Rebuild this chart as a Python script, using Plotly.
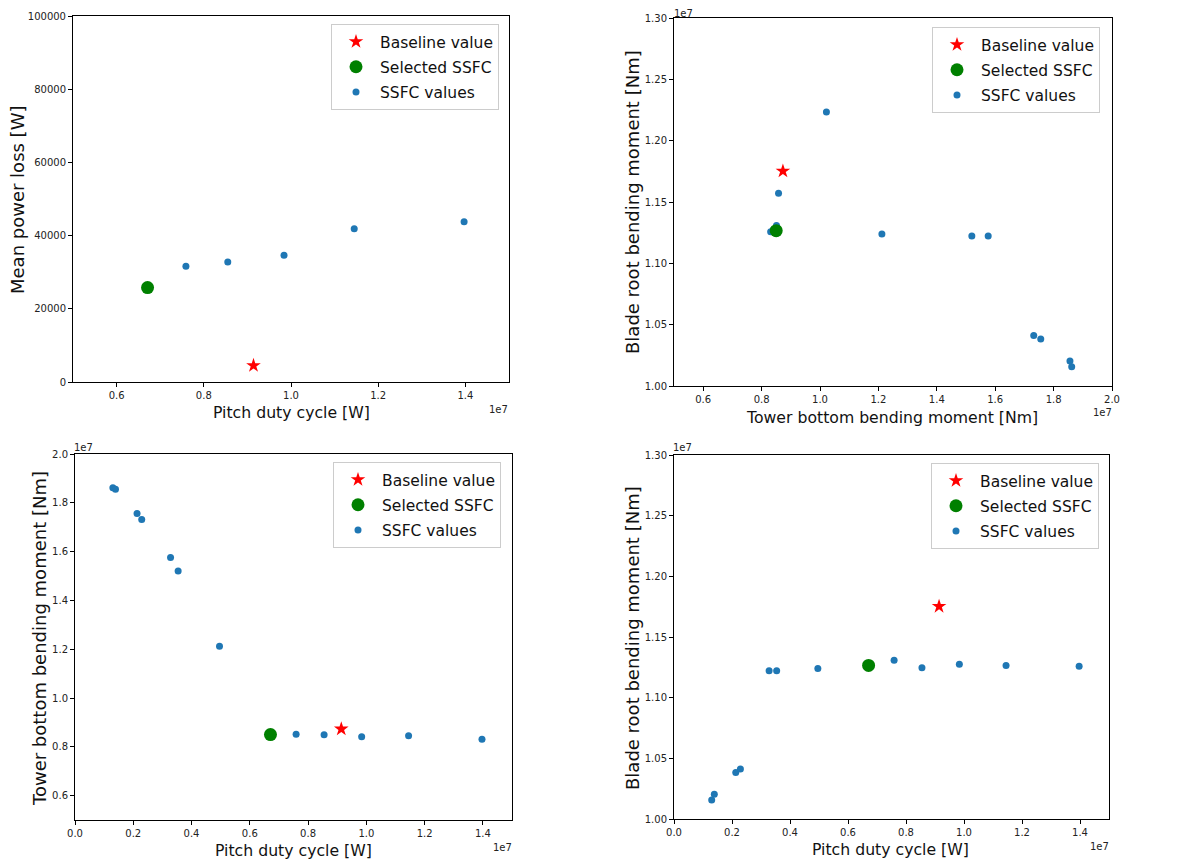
import plotly.graph_objects as go

# ---------------- data ----------------
# SSFC candidate values (None = outside every plotted range for that quantity)
ssfc_pitch = [1.30e6, 1.39e6, 2.13e6, 2.29e6, 3.28e6, 3.54e6, 4.96e6,
              7.59e6, 8.55e6, 9.84e6, 11.45e6, 13.97e6, None, None]
ssfc_power = [None, None, None, None, None, None, None,
              31600, 32800, 34600, 41900, 43800, None, None]
ssfc_tower = [18.62e6, 18.56e6, 17.56e6, 17.32e6, 15.76e6, 15.20e6, 12.12e6,
              8.51e6, 8.49e6, 8.41e6, 8.45e6, 8.31e6, 10.22e6, 8.58e6]
ssfc_blade = [10.156e6, 10.204e6, 10.384e6, 10.412e6, 11.222e6, 11.222e6, 11.240e6,
              11.308e6, 11.247e6, 11.275e6, 11.266e6, 11.258e6, 12.233e6, 11.572e6]

selected_pitch = [6.71e6]
selected_power = [25800]
selected_tower = [8.50e6]
selected_blade = [11.266e6]

baseline_pitch = [9.14e6]
baseline_power = [4500]
baseline_tower = [8.73e6]
baseline_blade = [11.752e6]

legend_labels = ["Baseline value", "Selected SSFC", "SSFC values"]

# tick labels (in units of 1e7 where an offset is shown)
ticks_pitch_top = [0.6, 0.8, 1.0, 1.2, 1.4]
ticks_power = [0, 20000, 40000, 60000, 80000, 100000]
ticks_tower_x = [0.6, 0.8, 1.0, 1.2, 1.4, 1.6, 1.8, 2.0]
ticks_blade = [1.00, 1.05, 1.10, 1.15, 1.20, 1.25, 1.30]
ticks_pitch_bottom = [0.0, 0.2, 0.4, 0.6, 0.8, 1.0, 1.2, 1.4]
ticks_tower_y = [0.6, 0.8, 1.0, 1.2, 1.4, 1.6, 1.8, 2.0]

FONT = "DejaVu Sans"
PAGE_OFFSET = 8           # default body margin of the html page
W, H = 1199 - PAGE_OFFSET, 860 - PAGE_OFFSET

fig = go.Figure()

panels = [
    ("x", "y", "legend", (ssfc_pitch, ssfc_power), (selected_pitch, selected_power), (baseline_pitch, baseline_power)),
    ("x2", "y2", "legend2", (ssfc_tower, ssfc_blade), (selected_tower, selected_blade), (baseline_tower, baseline_blade)),
    ("x3", "y3", "legend3", (ssfc_pitch, ssfc_tower), (selected_pitch, selected_tower), (baseline_pitch, baseline_tower)),
    ("x4", "y4", "legend4", (ssfc_pitch, ssfc_blade), (selected_pitch, selected_blade), (baseline_pitch, baseline_blade)),
]

for xa, ya, lg, ssfc, sel, base in panels:
    fig.add_trace(go.Scatter(x=ssfc[0], y=ssfc[1], mode="markers", name=legend_labels[2],
                             xaxis=xa, yaxis=ya, legend=lg, legendrank=3, legendgroup=lg + "c",
                             marker=dict(color="#1f77b4", size=7)))
    fig.add_trace(go.Scatter(x=sel[0], y=sel[1], mode="markers", name=legend_labels[1],
                             xaxis=xa, yaxis=ya, legend=lg, legendrank=2, legendgroup=lg + "b",
                             marker=dict(color="green", size=13)))
    fig.add_trace(go.Scatter(x=base[0], y=base[1], mode="markers", name=legend_labels[0],
                             xaxis=xa, yaxis=ya, legend=lg, legendrank=1, legendgroup=lg + "a",
                             marker=dict(color="red", size=11, symbol="star")))


def px_x(p):
    return (p - PAGE_OFFSET) / W


def px_y(p):
    return 1 - (p - PAGE_OFFSET) / H


axis_common = dict(showline=True, linecolor="black", linewidth=1, mirror=True,
                   ticks="outside", ticklen=4, tickwidth=1, tickcolor="black",
                   showgrid=False, zeroline=False, automargin=False,
                   tickfont=dict(family=FONT, size=10, color="#222"))


def scaled(ticks, fmt):
    return dict(tickmode="array", tickvals=[t * 1e7 for t in ticks],
                ticktext=[fmt.format(t) for t in ticks])


fig.update_layout(
    width=W, height=H, margin=dict(l=0, r=0, t=0, b=0, autoexpand=False),
    paper_bgcolor="white", plot_bgcolor="white",
    showlegend=True,
    xaxis=dict(domain=[px_x(73), px_x(509)], range=[0.5e7, 1.5e7], anchor="y",
               **scaled(ticks_pitch_top, "{:.1f}"), **axis_common),
    yaxis=dict(domain=[px_y(382), px_y(16)], range=[0, 100000], anchor="x",
               tickmode="array", tickvals=ticks_power, ticktext=[str(t) for t in ticks_power],
               **axis_common),
    xaxis2=dict(domain=[px_x(674), px_x(1112)], range=[0.5e7, 2.0e7], anchor="y2",
                **scaled(ticks_tower_x, "{:.1f}"), **axis_common),
    yaxis2=dict(domain=[px_y(386), px_y(18)], range=[1.0e7, 1.3e7], anchor="x2",
                **scaled(ticks_blade, "{:.2f}"), **axis_common),
    xaxis3=dict(domain=[px_x(75), px_x(512)], range=[0, 1.5e7], anchor="y3",
                **scaled(ticks_pitch_bottom, "{:.1f}"), **axis_common),
    yaxis3=dict(domain=[px_y(820), px_y(454)], range=[0.5e7, 2.0e7], anchor="x3",
                **scaled(ticks_tower_y, "{:.1f}"), **axis_common),
    xaxis4=dict(domain=[px_x(674), px_x(1109)], range=[0, 1.5e7], anchor="y4",
                **scaled(ticks_pitch_bottom, "{:.1f}"), **axis_common),
    yaxis4=dict(domain=[px_y(819), px_y(455)], range=[1.0e7, 1.3e7], anchor="x4",
                **scaled(ticks_blade, "{:.2f}"), **axis_common),
)

legend_style = dict(bgcolor="white", bordercolor="#cccccc", borderwidth=1,
                    font=dict(family=FONT, size=15.5, color="#111"),
                    xanchor="left", yanchor="top", traceorder="grouped",
                    tracegroupgap=2, itemsizing="trace", itemwidth=38)
fig.update_layout(
    legend=dict(x=px_x(331), y=px_y(24), **legend_style),
    legend2=dict(x=px_x(932), y=px_y(27), **legend_style),
    legend3=dict(x=px_x(333), y=px_y(462), **legend_style),
    legend4=dict(x=px_x(931), y=px_y(463), **legend_style),
)

annotations = []
xtitles = [("Pitch duty cycle [W]", 291, 413),
           ("Tower bottom bending moment [Nm]", 892, 417),
           ("Pitch duty cycle [W]", 293, 850),
           ("Pitch duty cycle [W]", 890, 849)]
for t, cx, cy in xtitles:
    annotations.append(dict(text=t, x=px_x(cx), y=px_y(cy), xref="paper", yref="paper",
                            showarrow=False, xanchor="center", yanchor="middle",
                            font=dict(family=FONT, size=15.7, color="#111")))
ytitles = [("Mean power loss [W]", 17, 200),
           ("Blade root bending moment [Nm]", 632, 202),
           ("Tower bottom bending moment [Nm]", 39, 639),
           ("Blade root bending moment [Nm]", 632, 638)]
for t, cx, cy in ytitles:
    annotations.append(dict(text=t, x=px_x(cx), y=px_y(cy), xref="paper", yref="paper",
                            showarrow=False, xanchor="center", yanchor="middle", textangle=-90,
                            font=dict(family=FONT, size=18, color="#111")))
offsets = [(498, 409), (683, 13), (1102, 413), (83, 447), (502, 847), (682, 447), (1099, 846)]
for cx, cy in offsets:
    annotations.append(dict(text="1e7", x=px_x(cx), y=px_y(cy), xref="paper", yref="paper",
                            showarrow=False, xanchor="center", yanchor="middle",
                            font=dict(family=FONT, size=10, color="#222")))
fig.update_layout(annotations=annotations)

fig.write_html("out.html")
